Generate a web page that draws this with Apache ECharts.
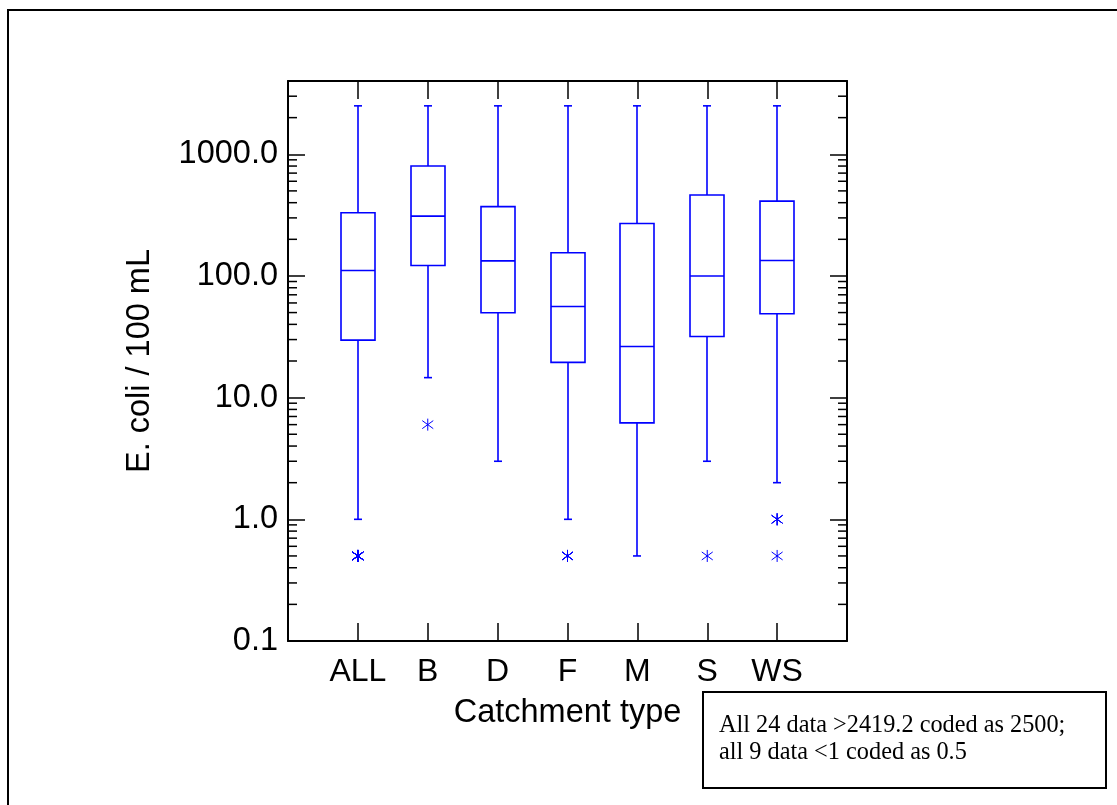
<!DOCTYPE html>
<html><head><meta charset="utf-8">
<script src="https://cdn.jsdelivr.net/npm/echarts@6/dist/echarts.min.js"></script>
<style>html,body{margin:0;padding:0;background:#fff}#c{width:1117px;height:805px}</style>
</head><body><div id="c"></div>
<script>
// ---- data ----
const categories   = ['ALL', 'B', 'D', 'F', 'M', 'S', 'WS'];
const whiskerLow   = [1.0, 14.6, 3.0, 1.0, 0.5, 3.0, 2.0];
const quartile1    = [29.7, 122, 49.8, 19.5, 6.2, 31.8, 48.9];
const medians      = [111, 310, 133, 56.1, 26.3, 100, 134];
const quartile3    = [331, 801, 371, 155, 270, 462, 412];
const whiskerHigh  = [2500, 2500, 2500, 2500, 2500, 2500, 2500];
const outlierCategory = ['ALL','ALL','ALL','ALL','ALL','ALL','ALL','ALL','ALL',
                         'B', 'F','F','F','F', 'S', 'WS', 'WS','WS','WS'];
const outlierValues   = [0.5,0.5,0.5,0.5,0.5,0.5,0.5,0.5,0.5,
                         6.0, 0.5,0.5,0.5,0.5, 0.5, 0.5, 1.0,1.0,1.0];
const yMajorTicks  = [0.1, 1, 10, 100, 1000];
const yTickLabels  = ['0.1', '1.0', '10.0', '100.0', '1000.0'];
const minorMantissas = [2, 3, 4, 5, 6, 7, 8, 9];
const yMax = 4000;
const xTitle = 'Catchment type';
const yTitle = 'E. coli / 100 mL';
const noteLines = ['All 24 data >2419.2 coded as 2500;', 'all 9 data <1 coded as 0.5'];

// ---- derived structures ----
const axisCats = [''].concat(categories, ['']);
const boxData = categories.map((c, i) => [i + 1, whiskerLow[i], quartile1[i], medians[i], quartile3[i], whiskerHigh[i]]);
const outlierData = outlierCategory.map((c, i) => [categories.indexOf(c) + 1, outlierValues[i]]);
const minorTicks = [];
yMajorTicks.forEach(d => minorMantissas.forEach(m => { const v = +(d * m).toPrecision(3); if (v <= yMax) minorTicks.push([1, v]); }));

const BLUE = '#0000ff';
const SANS = '"Liberation Sans", Arial, sans-serif';
const SERIF = '"Liberation Serif", "Times New Roman", serif';

function renderBox(params, api) {
  const x = api.value(0);
  const pLow = api.coord([x, api.value(1)]);
  const pQ1 = api.coord([x, api.value(2)]);
  const pMed = api.coord([x, api.value(3)]);
  const pQ3 = api.coord([x, api.value(4)]);
  const pHigh = api.coord([x, api.value(5)]);
  const cx = Math.round(pMed[0]);
  const hw = 17, cw = 4;
  const st = { stroke: BLUE, lineWidth: 1.6, fill: null };
  const L = (x1, y1, x2, y2) => ({ type: 'line', shape: { x1, y1, x2, y2 }, style: st });
  return { type: 'group', children: [
    { type: 'rect', shape: { x: cx - hw, y: pQ3[1], width: 2 * hw, height: pQ1[1] - pQ3[1] }, style: st },
    L(cx - hw, pMed[1], cx + hw, pMed[1]),
    L(cx, pQ3[1], cx, pHigh[1]),
    L(cx, pQ1[1], cx, pLow[1]),
    L(cx - cw, pHigh[1], cx + cw, pHigh[1]),
    L(cx - cw, pLow[1], cx + cw, pLow[1])
  ]};
}
function renderOutlier(params, api) {
  const p = api.coord([api.value(0), api.value(1)]);
  const st = { stroke: BLUE, lineWidth: 1, fill: null };
  const L = (x1, y1, x2, y2) => ({ type: 'line', shape: { x1: p[0] + x1, y1: p[1] + y1, x2: p[0] + x2, y2: p[1] + y2 }, style: st });
  return { type: 'group', children: [L(0, -6, 0, 6), L(-5.5, -4, 5.5, 4), L(-5.5, 4, 5.5, -4)] };
}
function renderMinor(params, api) {
  const y = api.coord([1, api.value(1)])[1];
  const cs = params.coordSys;
  const st = { stroke: '#000', lineWidth: 1.5 };
  return { type: 'group', children: [
    { type: 'line', shape: { x1: cs.x, y1: y, x2: cs.x + 9, y2: y }, style: st },
    { type: 'line', shape: { x1: cs.x + cs.width - 9, y1: y, x2: cs.x + cs.width, y2: y }, style: st }
  ]};
}

const axisLine = { show: true, lineStyle: { color: '#000', width: 2 } };
const tickStyle = { color: '#000', width: 1.5 };

const chart = echarts.init(document.getElementById('c'), null, { renderer: 'canvas' });
chart.setOption({
  animation: false,
  backgroundColor: '#fff',
  grid: { left: 288, right: 270, top: 81, bottom: 164, containLabel: false },
  xAxis: [
    { type: 'category', data: axisCats, boundaryGap: false, position: 'bottom',
      axisLine, axisTick: { show: true, inside: true, length: 18, lineStyle: tickStyle },
      axisLabel: { show: true, interval: 0, color: '#000', fontSize: 32, fontFamily: SANS, margin: 15 },
      splitLine: { show: false },
      name: xTitle, nameLocation: 'middle', nameGap: 56,
      nameTextStyle: { color: '#000', fontSize: 32.5, fontFamily: SANS } },
    { type: 'category', data: axisCats, boundaryGap: false, position: 'top',
      axisLine, axisTick: { show: true, inside: true, length: 18, lineStyle: tickStyle },
      axisLabel: { show: false }, splitLine: { show: false } }
  ],
  yAxis: [
    { type: 'log', logBase: 10, min: yMajorTicks[0], max: yMax, position: 'left',
      axisLine, axisTick: { show: true, inside: true, length: 17, lineStyle: tickStyle },
      axisLabel: { color: '#000', fontSize: 32.5, fontFamily: SANS, margin: 10, showMaxLabel: false,
        padding: [6, 0, 0, 0],
        formatter: v => { const i = yMajorTicks.findIndex(t => Math.abs(t - v) / t < 1e-6); return i >= 0 ? yTickLabels[i] : ''; } },
      splitLine: { show: false },
      name: yTitle, nameLocation: 'middle', nameGap: 131, nameRotate: 90,
      nameTextStyle: { color: '#000', fontSize: 32.5, fontFamily: SANS } },
    { type: 'log', logBase: 10, min: yMajorTicks[0], max: yMax, position: 'right',
      axisLine, axisTick: { show: true, inside: true, length: 17, lineStyle: tickStyle },
      axisLabel: { show: false }, splitLine: { show: false } }
  ],
  series: [
    { type: 'custom', name: 'minor', xAxisIndex: 0, yAxisIndex: 0, renderItem: renderMinor, data: minorTicks, silent: true, z: 1 },
    { type: 'custom', name: 'box', xAxisIndex: 0, yAxisIndex: 0, renderItem: renderBox, data: boxData, z: 3,
      encode: { x: 0, y: [1, 2, 3, 4, 5] } },
    { type: 'custom', name: 'outliers', xAxisIndex: 0, yAxisIndex: 0, renderItem: renderOutlier, data: outlierData, z: 4 }
  ],
  graphic: [
    { type: 'rect', shape: { x: 8, y: 10, width: 1300, height: 1000 }, style: { fill: 'none', stroke: '#000', lineWidth: 2 }, silent: true },
    { type: 'rect', shape: { x: 703, y: 692, width: 403, height: 96 }, style: { fill: '#fff', stroke: '#000', lineWidth: 2 }, z: 10 },
    { type: 'text', left: 719, top: 712, z: 11,
      style: { text: noteLines.join('\n'), font: '24.3px ' + SERIF, fill: '#000', lineHeight: 27 } }
  ]
});
</script>
</body></html>
